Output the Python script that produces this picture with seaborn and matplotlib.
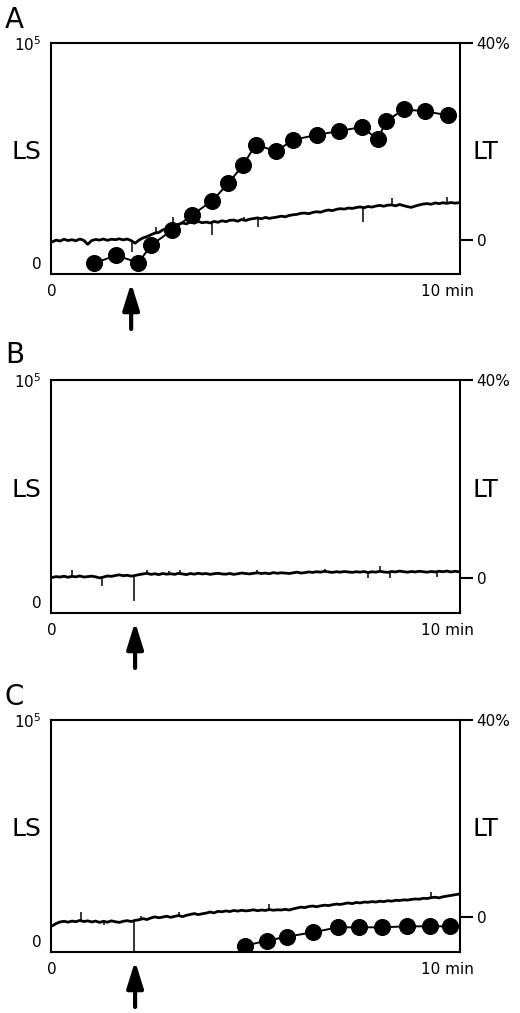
import numpy as np
import seaborn as sns
import matplotlib.pyplot as plt

# LS recorder trace, sampled every 0.1 min, in units of 10^3
dt = 0.1
ls_a = [9.6, 10.4, 10.0, 10.8, 10.2, 10.6, 10.1, 10.9, 10.3, 8.5,
        10.2, 10.7, 10.4, 10.9, 10.3, 10.8, 10.6, 11.0, 10.5, 10.9,
        10.2, 9.0, 10.4, 11.4, 12.0, 12.8, 13.6, 13.9, 15.0, 15.6,
        16.4, 16.9, 17.6, 18.2, 17.8, 18.6, 18.1, 18.9, 18.3, 18.6,
        18.2, 18.9, 18.5, 19.2, 18.8, 19.4, 19.5, 19.0, 19.8, 19.3,
        19.9, 20.2, 20.5, 20.1, 20.7, 20.3, 20.6, 20.9, 21.3, 21.0,
        21.6, 21.9, 22.1, 22.6, 22.7, 22.4, 23.0, 23.3, 23.1, 23.7,
        24.1, 23.8, 24.4, 24.7, 24.5, 25.0, 24.8, 25.2, 25.5, 25.1,
        25.7, 25.4, 25.9, 26.2, 25.8, 26.3, 26.4, 26.0, 26.6, 26.1,
        25.6, 25.3, 25.9, 26.4, 26.8, 27.0, 26.7, 27.3, 27.0, 27.4,
        27.1, 27.5, 27.2, 27.4]
ls_b = [11.0, 11.4, 11.2, 11.6, 11.1, 11.5, 11.3, 11.7, 11.2, 11.4,
        11.6, 11.3, 10.8, 11.2, 11.7, 11.5, 11.9, 12.2, 11.8, 12.0,
        11.6, 11.9, 12.3, 12.6, 12.9, 12.4, 12.7, 12.3, 12.8, 12.5,
        12.7, 12.4, 12.9, 12.6, 12.3, 12.8, 12.5, 12.9, 12.6, 12.8,
        12.4, 12.7, 12.9, 12.6, 12.5, 12.8, 12.4, 12.7, 13.0, 12.8,
        12.6, 12.9, 13.1, 12.8, 13.0, 12.7, 13.2, 12.9, 13.1, 13.0,
        12.8, 13.1, 13.4, 13.0, 13.2, 13.5, 13.3, 13.6, 13.4, 13.8,
        13.5, 13.3, 13.6, 13.4, 13.7, 13.5, 13.3, 13.6, 13.4, 13.7,
        13.2, 13.6, 13.4, 13.8, 13.5, 13.3, 13.7, 13.5, 13.9, 13.6,
        13.4, 13.7, 13.5, 13.8, 13.6, 13.4, 13.7, 13.5, 13.8, 13.6,
        13.9, 13.5, 13.8, 13.6]
ls_c = [6.8, 7.9, 8.6, 8.9, 8.5, 9.0, 8.7, 9.3, 8.8, 9.1,
        8.6, 9.0, 8.4, 8.9, 8.5, 9.1, 8.7, 8.4, 8.9, 9.2,
        8.8, 9.3, 9.6, 10.1, 9.7, 10.4, 10.9, 10.5, 10.8, 11.2,
        10.7, 11.1, 11.5, 11.0, 11.6, 12.0, 12.4, 11.9, 12.3, 12.6,
        13.1, 12.7, 13.4, 13.2, 13.6, 13.3, 13.8, 13.5, 13.9, 13.6,
        13.8, 14.1, 13.7, 14.0, 13.8, 14.2, 13.9, 14.1, 14.0, 14.3,
        14.0, 14.5, 14.9, 15.3, 15.1, 15.6, 15.8, 15.5, 15.9, 16.2,
        16.0, 16.4, 16.7, 16.5, 16.9, 17.2, 16.9, 17.4, 17.2, 17.6,
        17.5, 17.8, 17.6, 18.0, 17.8, 18.2, 18.0, 18.4, 18.3, 18.6,
        18.5, 18.8, 19.0, 18.9, 19.3, 19.2, 19.6, 19.8, 19.5, 20.0,
        20.3, 20.6, 20.9, 21.2]

# sharp spikes on the traces: time (min), tip value
spike_t_a = [2.02, 2.62, 3.05, 4.06, 4.86, 5.22, 7.88, 8.60, 10.0]
spike_v_a = [5.0, 16.2, 20.9, 12.7, 20.9, 16.4, 18.6, 29.5, 30.0]
spike_t_b = [0.50, 1.27, 2.06, 2.40, 2.96, 3.25, 5.20, 6.90, 8.00, 8.30, 8.56, 9.30, 9.75]
spike_v_b = [14.2, 7.0, 0.3, 14.6, 14.0, 14.2, 14.5, 15.0, 10.8, 16.0, 10.9, 14.6, 11.0]
spike_t_c = [0.73, 1.30, 2.08, 2.25, 3.20, 5.50, 9.60]
spike_v_c = [13.0, 7.0, -4.5, 11.5, 13.0, 16.8, 22.0]

# LT (%) points
lt_t_a = [1.05, 1.62, 2.18, 2.51, 3.03, 3.55, 4.06, 4.46, 4.84, 5.15,
          5.67, 6.11, 6.70, 7.27, 7.84, 8.25, 8.46, 8.91, 9.44, 10.03]
lt_v_a = [-4.85, -3.2, -4.7, -1.15, 1.9, 5.05, 7.95, 11.45, 15.2, 19.3,
          18.0, 20.3, 21.3, 22.1, 22.9, 20.4, 24.1, 26.5, 26.1, 25.3]
lt_t_c = [4.89, 5.44, 5.95, 6.61, 7.24, 7.77, 8.35, 8.99, 9.57, 10.08]
lt_v_c = [-5.7, -4.7, -3.9, -3.0, -2.0, -2.0, -2.0, -1.8, -1.8, -1.8]

panel_labels = ["A", "B", "C"]
arrow_t = [2.0, 2.1, 2.1]

sns.set_style("white")
plt.rcParams["font.family"] = ["DejaVu Sans"]
plt.rcParams["text.color"] = "black"
plt.rcParams["xtick.color"] = "black"
plt.rcParams["ytick.color"] = "black"
plt.rcParams["axes.labelcolor"] = "black"

fig = plt.figure(figsize=(5.2, 10.13), dpi=100)
H = 1013.0
W = 520.0
boxes = [(43, 274), (380, 613), (720, 952)]
letter_y = [28, 363, 705]

panels = [
    (ls_a, spike_t_a, spike_v_a, lt_t_a, lt_v_a),
    (ls_b, spike_t_b, spike_v_b, None, None),
    (ls_c, spike_t_c, spike_v_c, lt_t_c, lt_v_c),
]

for i, (ls, st, sv, lt_t, lt_v) in enumerate(panels):
    top, bot = boxes[i]
    ax = fig.add_axes([51 / W, 1 - bot / H, 409 / W, (bot - top) / H])
    t = np.arange(len(ls)) * dt
    sns.lineplot(x=t, y=ls, ax=ax, color="black", lw=2.0, estimator=None, sort=False)
    base = np.interp(st, t, ls)
    ax.vlines(st, base, sv, color="black", lw=1.1)
    ax.set_xlim(-0.03, 10.33)
    ax.set_ylim(-5, 100)
    ax.set_yticks([0, 100])
    ax.set_yticklabels(["0", r"$10^5$"])
    ax.set_xticks([0, 10])
    ax.set_xticklabels(["0", "10 min"])
    ax.tick_params(axis="both", length=0, labelsize=11, pad=7, labelcolor="black")
    ax.set_xlabel("")
    ax.set_ylabel("")
    for s in ax.spines.values():
        s.set_visible(True)
        s.set_color("black")
        s.set_linewidth(1.5)

    ax2 = ax.twinx()
    if lt_t is not None:
        sns.lineplot(x=lt_t, y=lt_v, ax=ax2, color="black", lw=1.4, marker="o",
                     markersize=11.5, markeredgecolor="black", estimator=None, sort=False)
    ax2.set_ylim(-7, 40)
    ax2.set_yticks([0, 40])
    ax2.set_yticklabels(["0", "40%"])
    ax2.tick_params(axis="y", direction="out", length=9, width=1.5, labelsize=11,
                    pad=3, color="black", labelcolor="black")
    ax2.set_ylabel("")
    for s in ax2.spines.values():
        s.set_visible(False)

    ax.text(-0.059, 0.53, "LS", transform=ax.transAxes, fontsize=18,
            ha="center", va="center", color="black")
    ax.text(1.061, 0.53, "LT", transform=ax.transAxes, fontsize=18,
            ha="center", va="center", color="black")

    ax.annotate("", xy=(arrow_t[i], -9 / (bot - top)), xytext=(arrow_t[i], -55 / (bot - top)),
                xycoords=("data", "axes fraction"), textcoords=("data", "axes fraction"),
                arrowprops=dict(arrowstyle="-|>,head_width=0.25,head_length=0.8",
                                lw=3, color="black", mutation_scale=20,
                                shrinkA=0, shrinkB=0),
                annotation_clip=False)

    fig.text(5 / W, 1 - letter_y[i] / H, panel_labels[i], fontsize=20,
             ha="left", va="baseline", color="black")

fig.savefig("out.png", dpi=100)
